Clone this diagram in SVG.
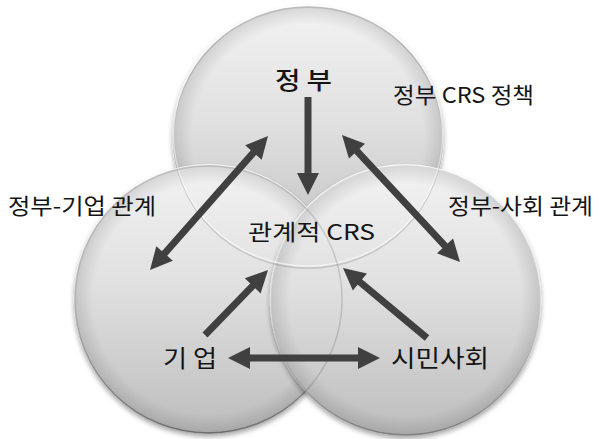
<svg xmlns="http://www.w3.org/2000/svg" width="598" height="439" viewBox="0 0 598 439">
  <defs>
    <linearGradient id="fillG" x1="0" y1="0" x2="0" y2="1">
      <stop offset="0" stop-color="#f2f2f2"/>
      <stop offset="0.45" stop-color="#e0e0e0"/>
      <stop offset="1" stop-color="#bdbdbd"/>
    </linearGradient>
    <radialGradient id="edgeG" cx="0.5" cy="0.5" r="0.5">
      <stop offset="0.86" stop-color="#000" stop-opacity="0"/>
      <stop offset="1" stop-color="#000" stop-opacity="0.12"/>
    </radialGradient>
    <linearGradient id="rimG" x1="0" y1="0" x2="0" y2="1">
      <stop offset="0" stop-color="#ffffff"/>
      <stop offset="0.5" stop-color="#e8e8e8"/>
      <stop offset="1" stop-color="#8a8a8a"/>
    </linearGradient>
    <filter id="shadow" x="-10%" y="-10%" width="120%" height="125%">
      <feGaussianBlur in="SourceAlpha" stdDeviation="2.5"/>
      <feOffset dy="2.5" result="b"/>
      <feComponentTransfer><feFuncA type="linear" slope="0.35"/></feComponentTransfer>
      <feMerge><feMergeNode/><feMergeNode in="SourceGraphic"/></feMerge>
    </filter>
    <marker id="head" markerUnits="userSpaceOnUse" viewBox="-2 -12 25 24" markerWidth="25" markerHeight="24" refX="0" refY="0" orient="auto-start-reverse" overflow="visible">
      <path d="M-1,-11 L21,0 L-1,11 z" fill="#404040"/>
    </marker>
    <style>
      .circ { fill: url(#fillG); stroke: url(#rimG); stroke-width: 1.6; }
      .edge { fill: url(#edgeG); }
      .ghost { fill: none; stroke: #000; stroke-opacity: 0.13; stroke-width: 1.6; }
      .ghostw { fill: none; stroke: #fff; stroke-opacity: 0.6; stroke-width: 1.4; }
      .lbl { font-family: "Noto Sans CJK KR", "Noto Sans", sans-serif; fill: #151515; font-size: 22px; }
      .node { font-size: 24px; }
      .conn line { stroke: #404040; stroke-width: 7; }
    </style>
  </defs>

  <rect width="598" height="439" fill="#ffffff"/>

  <g id="circle-gov" filter="url(#shadow)">
    <ellipse class="circ" cx="308" cy="137" rx="135" ry="131"/>
    <ellipse class="edge" cx="308" cy="137" rx="135" ry="131"/>
  </g>
  <g id="circle-business" filter="url(#shadow)">
    <circle class="circ" cx="208.5" cy="299" r="134"/>
    <circle class="edge" cx="208.5" cy="299" r="134"/>
  </g>
  <g id="circle-society" filter="url(#shadow)">
    <circle class="circ" cx="405.5" cy="300" r="135"/>
    <circle class="edge" cx="405.5" cy="300" r="135"/>
  </g>
  <g id="overlap-edges">
    <ellipse class="ghost" cx="308" cy="137.6" rx="134.5" ry="130.5"/>
    <ellipse class="ghostw" cx="308" cy="135.6" rx="134.5" ry="130.5"/>
    <circle class="ghost" cx="208.5" cy="299.5" r="133.6"/>
  </g>

  <g id="connectors" class="conn">
    <line x1="308" y1="97" x2="308" y2="174" marker-end="url(#head)"/>
    <line x1="163.9" y1="254.2" x2="254.1" y2="151.8" marker-start="url(#head)" marker-end="url(#head)"/>
    <line x1="356.3" y1="150.4" x2="445.7" y2="246.6" marker-start="url(#head)" marker-end="url(#head)"/>
    <line x1="205" y1="335" x2="253.4" y2="285.1" marker-end="url(#head)"/>
    <line x1="427" y1="338" x2="359.1" y2="281.4" marker-end="url(#head)"/>
    <line x1="249" y1="358" x2="359" y2="358" marker-start="url(#head)" marker-end="url(#head)"/>
  </g>

  <g id="node-gov"><text class="lbl node" x="275" y="89" font-weight="500" textLength="57" lengthAdjust="spacingAndGlyphs">정 부</text></g>
  <g id="label-gov-policy"><text class="lbl" x="393" y="103" textLength="141" lengthAdjust="spacingAndGlyphs">정부 CRS 정책</text></g>
  <g id="label-gov-business"><text class="lbl" x="8" y="214" textLength="148" lengthAdjust="spacingAndGlyphs">정부-기업 관계</text></g>
  <g id="label-gov-society"><text class="lbl" x="448" y="214" textLength="145" lengthAdjust="spacingAndGlyphs">정부-사회 관계</text></g>
  <g id="node-center"><text class="lbl" x="248" y="240" font-size="23" textLength="127" lengthAdjust="spacingAndGlyphs">관계적 CRS</text></g>
  <g id="node-business"><text class="lbl node" x="163" y="367" textLength="54" lengthAdjust="spacingAndGlyphs">기 업</text></g>
  <g id="node-society"><text class="lbl node" x="391" y="367" textLength="98" lengthAdjust="spacingAndGlyphs">시민사회</text></g>
</svg>
